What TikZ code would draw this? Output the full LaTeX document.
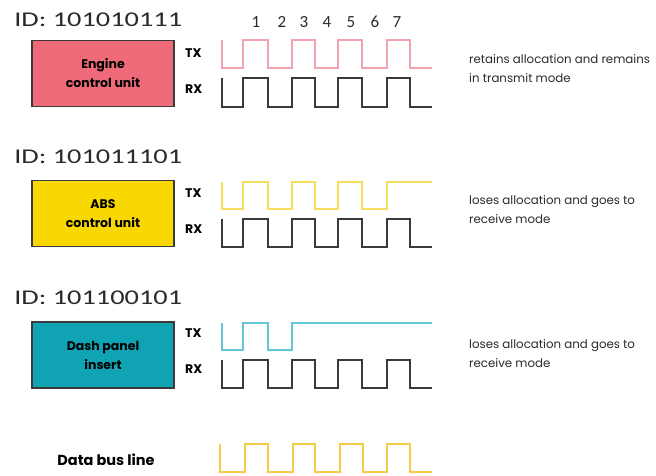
\documentclass[tikz,border=0pt]{standalone}
\usepackage{fontspec}
\setmainfont{Poppins}
\newfontfamily\idfont{Carlito}
\definecolor{boxpink}{HTML}{EF6B79}
\definecolor{boxyellow}{HTML}{F8D800}
\definecolor{boxteal}{HTML}{0FA3B4}
\definecolor{pinkline}{HTML}{F2A3AE}
\definecolor{yellowline}{HTML}{F6DE5C}
\definecolor{tealline}{HTML}{63C6D6}
\definecolor{busline}{HTML}{F6CB4A}
\definecolor{rxline}{HTML}{3A3A3A}
\definecolor{txtgray}{HTML}{2A2A2A}
\newcommand\fullwave[2]{(222,#1)--(222,#2)--(243,#2)--(243,#1)--(268,#1)--(268,#2)--(292,#2)--(292,#1)--(315,#1)--(315,#2)--(338,#2)--(338,#1)--(362,#1)--(362,#2)--(387,#2)--(387,#1)--(410,#1)--(410,#2)--(432,#2)}
\tikzset{
  unitbox/.style={draw=rxline, line width=1.3pt, minimum width=142pt, minimum height=66pt, align=center, inner sep=0pt, font=\fontsize{12.5}{19}\selectfont\bfseries, text=black},
  idlabel/.style={anchor=west, inner sep=0pt, font=\idfont\fontsize{21}{21}\selectfont, text=txtgray, xscale=1.35},
  sig/.style={anchor=west, inner sep=0pt, font=\fontsize{12.5}{12.5}\selectfont\bfseries, text=black},
  note/.style={anchor=west, align=left, inner sep=0pt, font=\fontsize{11.8}{19}\selectfont, text=txtgray},
  num/.style={inner sep=0pt, font=\idfont\fontsize{17}{17}\selectfont, text=txtgray},
  wave/.style={line width=1.6pt, line join=miter}
}
\begin{document}
\begin{tikzpicture}[x=1pt,y=-1pt]
\useasboundingbox (0,0) rectangle (656,475);
% numbers
\foreach \n/\x in {1/256,2/282,3/304,4/327,5/351,6/375,7/397}
  \node[num] (n\n) at (\x,22) {\n};
% Section 1
\node[idlabel] (id1) at (14,20) {ID: 101010111};
\node[unitbox, fill=boxpink] (ecu) at (103,73.5) {Engine\\control unit};
\node[sig] (tx1) at (185,53) {TX};
\node[sig] (rx1) at (185,89) {RX};
\draw[wave, pinkline] \fullwave{40}{68};
\draw[wave, rxline] \fullwave{78}{107};
\node[note] (t1) at (469,68.5) {retains allocation and remains\\in transmit mode};
% Section 2
\node[idlabel] (id2) at (14,157) {ID: 101011101};
\node[unitbox, fill=boxyellow] (abs) at (103,213.5) {ABS\\control unit};
\node[sig] (tx2) at (185,193) {TX};
\node[sig] (rx2) at (185,229) {RX};
\draw[wave, yellowline] (222,182)--(222,209)--(243,209)--(243,182)--(268,182)--(268,209)--(292,209)--(292,182)--(315,182)--(315,209)--(338,209)--(338,182)--(362,182)--(362,209)--(387,209)--(387,182)--(432,182);
\draw[wave, rxline] \fullwave{219}{247};
\node[note] (t2) at (469,209.5) {loses allocation and goes to\\receive mode};
% Section 3
\node[idlabel] (id3) at (14,298) {ID: 101100101};
\node[unitbox, fill=boxteal] (dpi) at (103,355) {Dash panel\\insert};
\node[sig] (tx3) at (185,333) {TX};
\node[sig] (rx3) at (185,369) {RX};
\draw[wave, tealline] (222,323)--(222,350)--(243,350)--(243,323)--(268,323)--(268,350)--(292,350)--(292,323)--(432,323);
\draw[wave, rxline] \fullwave{360}{388};
\node[note] (t3) at (469,354) {loses allocation and goes to\\receive mode};
% Data bus line
\node[sig, anchor=center, font=\fontsize{14.5}{14.5}\selectfont\bfseries] (bus) at (106,460) {Data bus line};
\draw[wave, busline] (220,444)--(220,472)--(245,472)--(245,444)--(268,444)--(268,472)--(293,472)--(293,444)--(315,444)--(315,472)--(340,472)--(340,444)--(363,444)--(363,472)--(387,472)--(387,444)--(410,444)--(410,472)--(432,472);
\end{tikzpicture}
\end{document}
